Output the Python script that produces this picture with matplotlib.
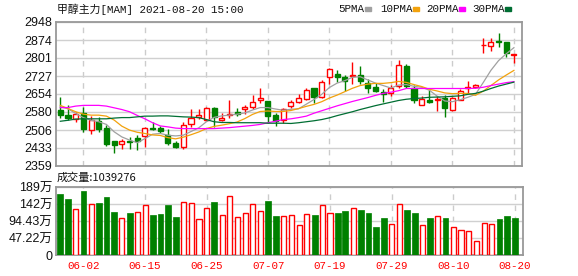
import matplotlib
matplotlib.use("Agg")
import matplotlib.pyplot as plt
from matplotlib.patches import Rectangle

# daily OHLC
opens = [2587, 2568, 2552, 2574, 2508, 2542, 2515, 2460, 2450, 2462,
         2473, 2480, 2516, 2514, 2485, 2454, 2437, 2531, 2560, 2547,
         2597, 2549, 2566, 2579, 2593, 2602, 2631, 2624, 2567, 2549,
         2605, 2619, 2634, 2680, 2642, 2721, 2735, 2723, 2728, 2731,
         2697, 2683, 2663, 2659, 2687, 2768, 2679, 2610, 2628, 2630,
         2637, 2588, 2631, 2678, 2683, 2852, 2851, 2870, 2865, 2813]
highs = [2642, 2608, 2579, 2601, 2563, 2560, 2526, 2460, 2469, 2478,
         2485, 2518, 2537, 2522, 2512, 2460, 2538, 2593, 2594, 2601,
         2601, 2576, 2628, 2598, 2608, 2648, 2679, 2624, 2577, 2598,
         2628, 2653, 2678, 2680, 2709, 2761, 2752, 2731, 2784, 2768,
         2713, 2697, 2672, 2690, 2793, 2777, 2690, 2646, 2669, 2645,
         2649, 2642, 2672, 2707, 2693, 2881, 2881, 2901, 2865, 2817]
lows = [2557, 2546, 2537, 2499, 2489, 2499, 2440, 2414, 2428, 2429,
        2426, 2437, 2505, 2492, 2445, 2433, 2428, 2519, 2552, 2542,
        2520, 2544, 2556, 2563, 2570, 2594, 2618, 2535, 2524, 2535,
        2598, 2615, 2628, 2615, 2637, 2693, 2701, 2665, 2693, 2693,
        2658, 2660, 2620, 2645, 2676, 2676, 2617, 2607, 2615, 2585,
        2560, 2585, 2628, 2658, 2679, 2820, 2830, 2844, 2804, 2782]
closes = [2567, 2556, 2570, 2510, 2546, 2511, 2448, 2444, 2460, 2456,
          2462, 2516, 2511, 2503, 2454, 2436, 2527, 2557, 2566, 2597,
          2559, 2556, 2570, 2571, 2602, 2622, 2637, 2564, 2544, 2594,
          2619, 2639, 2668, 2642, 2702, 2754, 2723, 2706, 2732, 2708,
          2679, 2667, 2654, 2680, 2772, 2687, 2631, 2633, 2622, 2634,
          2597, 2638, 2667, 2683, 2689, 2855, 2865, 2865, 2820, 2817]

# moving averages as drawn
ma5 = [2601, 2593, 2574, 2557, 2546, 2540, 2529, 2499, 2478, 2465,
       2454, 2471, 2489, 2492, 2485, 2482, 2485, 2500, 2515, 2540,
       2558, 2564, 2567, 2571, 2576, 2588, 2598, 2598, 2592, 2587,
       2591, 2593, 2612, 2631, 2652, 2680, 2698, 2708, 2722, 2724,
       2711, 2698, 2688, 2678, 2690, 2692, 2685, 2681, 2669, 2645,
       2625, 2622, 2630, 2640, 2652, 2700, 2750, 2790, 2818, 2843]
ma10 = [2607, 2594, 2581, 2571, 2567, 2567, 2563, 2547, 2522, 2506,
        2497, 2492, 2486, 2484, 2475, 2470, 2477, 2487, 2498, 2512,
        2521, 2526, 2532, 2539, 2553, 2570, 2582, 2584, 2582, 2582,
        2586, 2594, 2603, 2611, 2622, 2637, 2649, 2663, 2677, 2688,
        2694, 2697, 2697, 2700, 2705, 2701, 2692, 2684, 2673, 2666,
        2658, 2655, 2656, 2656, 2648, 2665, 2688, 2711, 2731, 2750]
ma20 = [2598, 2598, 2604, 2607, 2607, 2607, 2604, 2597, 2590, 2581,
        2566, 2552, 2536, 2523, 2519, 2514, 2512, 2512, 2512, 2512,
        2512, 2514, 2516, 2519, 2522, 2525, 2529, 2536, 2542, 2549,
        2552, 2557, 2563, 2575, 2585, 2595, 2605, 2614, 2623, 2631,
        2639, 2648, 2656, 2661, 2667, 2676, 2676, 2676, 2676, 2676,
        2676, 2676, 2676, 2676, 2677, 2681, 2688, 2694, 2700, 2704]
ma30 = [2542, 2546, 2551, 2552, 2552, 2552, 2552, 2555, 2557, 2557,
        2560, 2563, 2563, 2564, 2564, 2562, 2560, 2559, 2557, 2549,
        2540, 2537, 2537, 2536, 2536, 2536, 2536, 2534, 2534, 2534,
        2533, 2536, 2540, 2544, 2549, 2556, 2565, 2573, 2581, 2590,
        2598, 2606, 2613, 2620, 2627, 2632, 2635, 2637, 2640, 2641,
        2642, 2644, 2646, 2652, 2656, 2665, 2676, 2686, 2694, 2702]

# volume in 10k (万) and up/down flag for its colour
volume = [169.4, 156.5, 127.8, 178.7, 141.7, 144.5, 161.1, 119.5, 102.8, 116.7,
          119.5, 138.9, 111.1, 113.9, 138.9, 105.6, 147.2, 144.5, 100.0, 130.6,
          147.2, 111.1, 163.9, 105.6, 116.7, 141.7, 122.2, 150.0, 108.3, 108.3,
          111.1, 83.3, 113.9, 111.1, 138.9, 116.7, 116.7, 122.2, 130.6, 125.0,
          116.7, 77.8, 102.8, 86.1, 141.7, 125.0, 116.7, 83.3, 102.8, 108.3,
          102.8, 77.8, 69.4, 66.7, 38.9, 88.9, 86.1, 100.0, 108.3, 103.9]
vol_up = [0, 0, 1, 0, 1, 0, 0, 0, 1, 0, 1, 1, 0, 0, 0, 0, 1, 1, 1, 1,
          0, 1, 1, 1, 1, 1, 1, 0, 0, 1, 1, 1, 1, 0, 1, 1, 0, 0, 1, 0,
          0, 0, 0, 1, 1, 0, 0, 1, 0, 1, 0, 1, 1, 1, 1, 1, 1, 0, 0, 0]

date_pos = [3, 11, 19, 27, 35, 43, 51, 59]
date_labels = ["06-02", "06-15", "06-25", "07-07", "07-19", "07-29", "08-10", "08-20"]
price_ticks = [2359, 2433, 2506, 2580, 2654, 2727, 2801, 2874, 2948]
vol_ticks = [0, 47.22, 94.43, 141.65, 188.87]
vol_tick_labels = ["0", "47.22万", "94.43万", "142万", "189万"]

RED = "#ff0000"
GREEN = "#008000"
ma_colors = ["#a0a0a0", "#f2a20c", "#ff00ff", "#006e33"]
ma_names = ["5PMA", "10PMA", "20PMA", "30PMA"]

W, H = 578, 276
fig = plt.figure(figsize=(W / 100, H / 100), dpi=100)
ax1 = fig.add_axes([56 / W, 1 - 166 / H, 466 / W, 144 / H])
ax2 = fig.add_axes([56 / W, 1 - 255 / H, 467 / W, 68 / H])

n = len(closes)
x = list(range(n))
bw = 0.66

# candles
for i in x:
    o, h, l, c = opens[i], highs[i], lows[i], closes[i]
    up = c >= o
    lo, hi = min(o, c), max(o, c)
    col = RED if up else GREEN
    ax1.vlines(i, l, lo, color=col, lw=1, zorder=3)
    ax1.vlines(i, hi, h, color=col, lw=1, zorder=3)
    ax1.bar(i, max(hi - lo, 0.5), bottom=lo, width=bw,
            facecolor="white" if up else GREEN, edgecolor=col, lw=1, zorder=4)

for ma, col in zip([ma5, ma10, ma20, ma30], ma_colors):
    ax1.plot(x, ma, color=col, lw=0.9, zorder=5)

# volume
for i in x:
    if vol_up[i]:
        ax2.bar(i, volume[i], width=bw, facecolor="white", edgecolor=RED, lw=1, zorder=3)
    else:
        ax2.bar(i, volume[i], width=bw + 0.1, facecolor=GREEN, edgecolor=GREEN, lw=0.5, zorder=3)

for ax in (ax1, ax2):
    ax.set_xlim(-0.56, 60.05)
    for p in date_pos:
        ax.axvline(p, color="#cccccc", lw=1, ls=(0, (4, 4)), zorder=1)
    ax.grid(axis="y", color="#d0d0d0", lw=1, zorder=1)
    for s in ax.spines.values():
        s.set_color("#999999")
        s.set_linewidth(1.3)
    ax.tick_params(length=0)

ax1.set_ylim(price_ticks[0], price_ticks[-1])
ax1.set_yticks(price_ticks)
ax1.set_yticklabels([str(t) for t in price_ticks], fontsize=9,
                    family="Liberation Sans", color="#111111")
ax1.tick_params(axis="y", pad=2.5)
ax1.set_xticks([])

ax2.set_ylim(0, vol_ticks[-1])
ax2.set_yticks(vol_ticks)
ax2.set_yticklabels(vol_tick_labels, fontsize=9,
                    family=["Liberation Sans", "Noto Sans CJK SC"], color="#111111")
ax2.tick_params(axis="y", pad=2.5)
ax2.set_xticks(date_pos)
ax2.set_xticklabels(date_labels, fontsize=7.8, family="Liberation Mono", color=RED)
ax2.tick_params(axis="x", pad=4)

# header texts
fig.text(57 / W, 1 - 9 / H, "甲醇主力[MAM] 2021-08-20 15:00", fontsize=7.8,
         family=["Liberation Mono", "Noto Sans CJK SC"], va="center", color="#111111")
fig.text(57 / W, 1 - 178 / H, "成交量:1039276", fontsize=8,
         family=["Noto Sans CJK SC"], va="center", color="#111111")

leg_x = [338, 380, 426, 472]
for lx, name, col in zip(leg_x, ma_names, ma_colors):
    t = fig.text(lx / W, 1 - 9 / H, name, fontsize=7.8, family="Liberation Mono",
                 va="center", color="#111111")
    tw = len(name) * 6.25
    fig.add_artist(Rectangle(((lx + tw + 2) / W, 1 - 10.5 / H), 6 / W, 3.5 / H,
                             transform=fig.transFigure, color=col))

fig.savefig("out.png", dpi=100)
